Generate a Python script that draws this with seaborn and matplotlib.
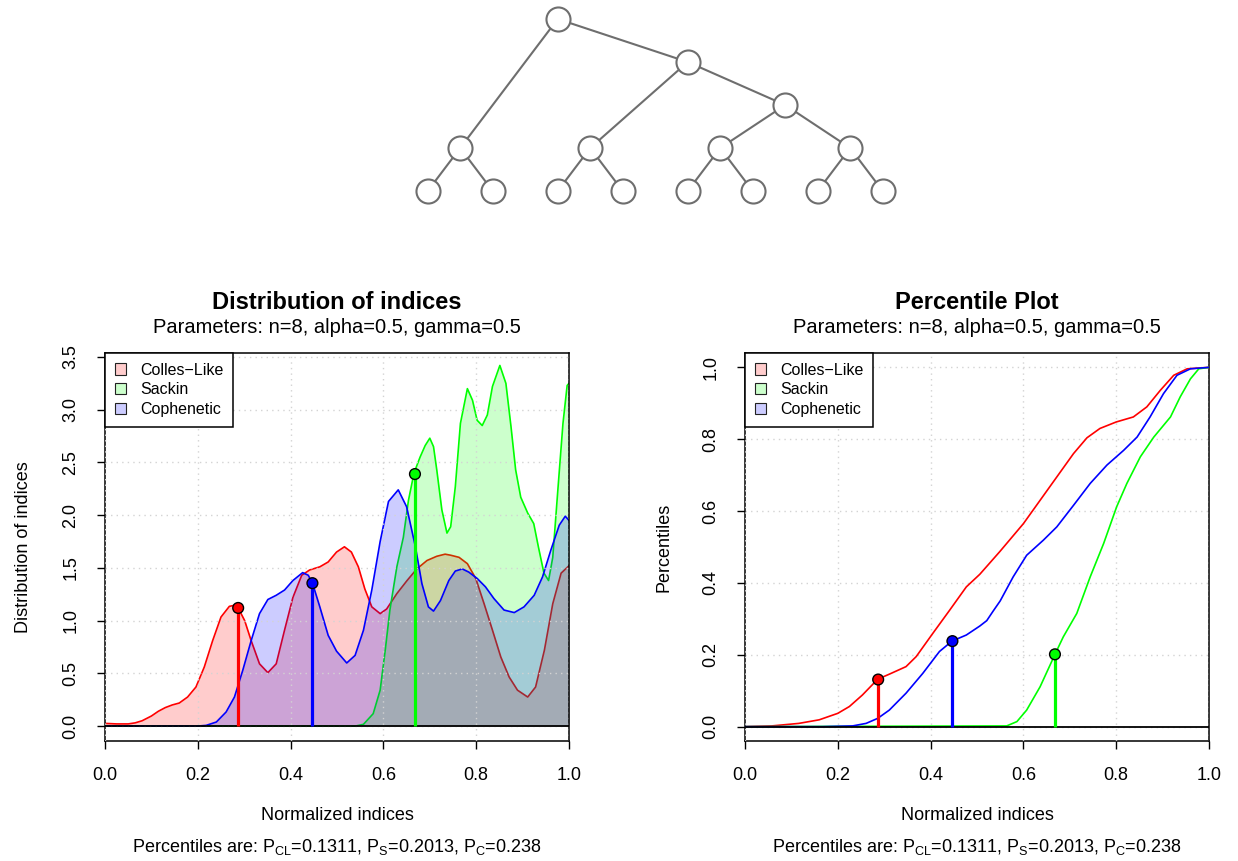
import numpy as np
import pandas as pd
import matplotlib
matplotlib.use("Agg")
import matplotlib.pyplot as plt
from matplotlib.patches import Patch
import seaborn as sns

# ------------------------------------------------------------------ data
series_names = ["Colles−Like", "Sackin", "Cophenetic"]
series_colors = ["#FF0000", "#00FF00", "#0000FF"]

# density curves
cl_dens_x = [0.0, 0.025, 0.05, 0.065, 0.08, 0.10, 0.115, 0.13, 0.145, 0.16, 0.178, 0.196, 0.214,
             0.232, 0.25, 0.268, 0.279, 0.287, 0.301, 0.315, 0.333, 0.351, 0.369, 0.387, 0.405,
             0.424, 0.441, 0.463, 0.481, 0.499, 0.516, 0.531, 0.546, 0.560, 0.575, 0.593, 0.607,
             0.629, 0.651, 0.672, 0.694, 0.715, 0.733, 0.745, 0.763, 0.781, 0.799, 0.817, 0.835,
             0.853, 0.871, 0.889, 0.911, 0.928, 0.947, 0.965, 0.983, 1.0]
cl_dens_y = [0.025, 0.02, 0.02, 0.03, 0.05, 0.095, 0.14, 0.175, 0.20, 0.218, 0.275, 0.37, 0.56,
             0.81, 1.034, 1.135, 1.145, 1.12, 1.0, 0.81, 0.59, 0.506, 0.59, 0.91, 1.22,
             1.43, 1.48, 1.51, 1.556, 1.65, 1.70, 1.65, 1.51, 1.30, 1.13, 1.066, 1.11,
             1.256, 1.38, 1.49, 1.57, 1.61, 1.63, 1.62, 1.60, 1.54, 1.40, 1.16, 0.91,
             0.655, 0.465, 0.34, 0.275, 0.37, 0.72, 1.16, 1.45, 1.52]

s_dens_x = [0.0, 0.54, 0.557, 0.578, 0.593, 0.604, 0.614, 0.629, 0.643, 0.654, 0.666, 0.679,
            0.69, 0.70, 0.708, 0.715, 0.726, 0.737, 0.745, 0.755, 0.766, 0.781, 0.792, 0.802,
            0.813, 0.824, 0.835, 0.851, 0.864, 0.875, 0.885, 0.896, 0.911, 0.924, 0.934, 0.946,
            0.956, 0.965, 0.976, 0.987, 0.996, 1.0]
s_dens_y = [0.0, 0.0, 0.016, 0.117, 0.34, 0.72, 1.10, 1.51, 1.79, 2.14, 2.40, 2.55,
            2.66, 2.73, 2.65, 2.43, 2.05, 1.83, 1.89, 2.27, 2.87, 3.20, 3.09, 2.90,
            2.85, 2.95, 3.22, 3.42, 3.25, 2.84, 2.43, 2.17, 2.02, 1.92, 1.70, 1.45,
            1.38, 1.60, 2.24, 2.87, 3.23, 3.25]

c_dens_x = [0.0, 0.20, 0.218, 0.24, 0.261, 0.279, 0.297, 0.315, 0.333, 0.351, 0.369, 0.387,
            0.405, 0.426, 0.438, 0.447, 0.463, 0.481, 0.499, 0.521, 0.539, 0.557, 0.575, 0.593,
            0.611, 0.632, 0.65, 0.669, 0.683, 0.697, 0.708, 0.723, 0.741, 0.755, 0.77, 0.784,
            0.802, 0.82, 0.838, 0.86, 0.882, 0.903, 0.925, 0.943, 0.961, 0.979, 0.992, 1.0]
c_dens_y = [0.0, 0.0, 0.006, 0.038, 0.133, 0.275, 0.53, 0.81, 1.066, 1.20, 1.24, 1.29,
            1.38, 1.455, 1.43, 1.357, 1.13, 0.86, 0.71, 0.598, 0.67, 0.908, 1.29, 1.75,
            2.13, 2.24, 2.08, 1.70, 1.35, 1.13, 1.09, 1.19, 1.38, 1.47, 1.49, 1.46,
            1.40, 1.32, 1.21, 1.10, 1.076, 1.13, 1.24, 1.415, 1.67, 1.905, 1.99, 1.95]

# percentile (cumulative) curves
cl_cdf_x = [0.0, 0.058, 0.116, 0.16, 0.2, 0.225, 0.253, 0.286, 0.311, 0.347, 0.369, 0.405, 0.441,
            0.477, 0.506, 0.549, 0.6, 0.636, 0.672, 0.708, 0.737, 0.765, 0.8, 0.837, 0.866,
            0.895, 0.924, 0.953, 1.0]
cl_cdf_y = [0.0, 0.002, 0.009, 0.019, 0.037, 0.056, 0.088, 0.132, 0.146, 0.167, 0.195, 0.26, 0.324,
            0.389, 0.424, 0.487, 0.565, 0.63, 0.695, 0.76, 0.804, 0.83, 0.848, 0.862, 0.89,
            0.936, 0.978, 0.996, 1.0]

s_cdf_x = [0.0, 0.564, 0.586, 0.607, 0.636, 0.668, 0.686, 0.715, 0.744, 0.773, 0.801, 0.823,
           0.852, 0.881, 0.917, 0.938, 0.96, 0.978, 1.0]
s_cdf_y = [0.0, 0.002, 0.014, 0.046, 0.111, 0.201, 0.25, 0.315, 0.417, 0.51, 0.612, 0.677,
           0.751, 0.806, 0.862, 0.918, 0.968, 0.996, 1.0]

c_cdf_x = [0.0, 0.167, 0.232, 0.261, 0.286, 0.311, 0.347, 0.383, 0.419, 0.446, 0.477, 0.506,
           0.521, 0.535, 0.55, 0.578, 0.607, 0.643, 0.672, 0.708, 0.744, 0.78, 0.816, 0.845,
           0.873, 0.902, 0.931, 0.96, 1.0]
c_cdf_y = [0.0, 0.0, 0.002, 0.009, 0.023, 0.046, 0.093, 0.148, 0.209, 0.238, 0.255, 0.28,
           0.295, 0.322, 0.35, 0.417, 0.477, 0.519, 0.556, 0.616, 0.677, 0.728, 0.769, 0.806,
           0.862, 0.927, 0.978, 0.996, 1.0]

# observed tree: normalized indices, density at them, percentiles
obs_index = [0.287, 0.668, 0.447]      # CL, S, C
obs_density = [1.12, 2.39, 1.355]
obs_percentile = [0.1311, 0.2013, 0.238]

x_ticks = [0.0, 0.2, 0.4, 0.6, 0.8, 1.0]
x_tick_labels = ["0.0", "0.2", "0.4", "0.6", "0.8", "1.0"]
dens_ticks = [0.0, 0.5, 1.0, 1.5, 2.0, 2.5, 3.0, 3.5]
dens_tick_labels = ["0.0", "0.5", "1.0", "1.5", "2.0", "2.5", "3.0", "3.5"]
pct_ticks = [0.0, 0.2, 0.4, 0.6, 0.8, 1.0]
pct_tick_labels = ["0.0", "0.2", "0.4", "0.6", "0.8", "1.0"]

# tree (n=8): node layout in leaf units / height levels, and edges
tree_node_x = [2.0, 4.0, 5.5, 0.5, 2.5, 4.5, 6.5, 0, 1, 2, 3, 4, 5, 6, 7]
tree_node_h = [4, 3, 2, 1, 1, 1, 1, 0, 0, 0, 0, 0, 0, 0, 0]
tree_edges = [(0, 3), (0, 1), (1, 4), (1, 2), (2, 5), (2, 6),
              (3, 7), (3, 8), (4, 9), (4, 10), (5, 11), (5, 12), (6, 13), (6, 14)]

title_left = "Distribution of indices"
title_right = "Percentile Plot"
subtitle = "Parameters: n=8, alpha=0.5, gamma=0.5"
bottom_text = (r"Percentiles are: P$_{\mathrm{CL}}$=0.1311, P$_{\mathrm{S}}$=0.2013, "
               r"P$_{\mathrm{C}}$=0.238")

# ------------------------------------------------------------------ style
sns.set_style("ticks")
plt.rcParams["font.family"] = ["Liberation Sans", "DejaVu Sans"]
plt.rcParams["mathtext.fontset"] = "custom"
plt.rcParams["mathtext.rm"] = "Liberation Sans"
plt.rcParams["mathtext.it"] = "Liberation Sans:italic"
plt.rcParams["axes.edgecolor"] = "black"
plt.rcParams["text.color"] = "black"
plt.rcParams["axes.labelcolor"] = "black"
plt.rcParams["xtick.color"] = "black"
plt.rcParams["ytick.color"] = "black"

W, H = 1238, 861
fig = plt.figure(figsize=(W / 100, H / 100), dpi=100)
fig.patch.set_facecolor("white")


def px_axes(left, top, right, bottom):
    return fig.add_axes([left / W, 1 - bottom / H, (right - left) / W, (bottom - top) / H])


# ------------------------------------------------------------------ tree
leaf0_px, leaf_step, leaf_y_px, level_step = 427.7, 65.0, 191.0, 43.0
t_xlim = (-0.5, 7.5)
t_ylim = (-0.45, 4.44)
axt = px_axes(leaf0_px + t_xlim[0] * leaf_step, leaf_y_px - t_ylim[1] * level_step,
              leaf0_px + t_xlim[1] * leaf_step, leaf_y_px - t_ylim[0] * level_step)
axt.set_xlim(*t_xlim)
axt.set_ylim(*t_ylim)
axt.axis("off")
for a, b in tree_edges:
    axt.plot([tree_node_x[a], tree_node_x[b]], [tree_node_h[a], tree_node_h[b]],
             color="#6e6e6e", lw=1.5, zorder=1, solid_capstyle="butt")
sns.scatterplot(x=tree_node_x, y=tree_node_h, ax=axt, s=300, color="white",
                edgecolor="#6e6e6e", linewidth=1.5, zorder=3, legend=False, clip_on=False)

# ------------------------------------------------------------------ common axis styling
FS_TICK = 13
FS_LAB = 13
FS_LEG = 11.5


def style_axes(ax, yticks, ylabels, ylim):
    ax.set_xlim(0, 1)
    ax.set_ylim(*ylim)
    ax.set_xticks(x_ticks)
    ax.set_xticklabels(x_tick_labels, fontsize=FS_TICK)
    ax.set_yticks(yticks)
    ax.set_yticklabels(ylabels, fontsize=FS_TICK, rotation=90, va="center")
    ax.tick_params(axis="both", direction="out", length=5.5, width=1, color="black",
                   labelcolor="black")
    ax.tick_params(axis="x", pad=13)
    ax.tick_params(axis="y", pad=13)
    for sp in ax.spines.values():
        sp.set_visible(True)
        sp.set_linewidth(1.1)
        sp.set_color("black")
    ax.grid(True, color="#D3D3D3", linestyle=(0, (1, 3)), lw=1.0, zorder=2.5)
    ax.set_axisbelow(False)
    for gl in ax.get_xgridlines() + ax.get_ygridlines():
        gl.set_zorder(2.5)
    ax.axhline(0, color="black", lw=1.3, zorder=4)
    ax.set_xlabel("Normalized indices", fontsize=FS_LAB, va="center")
    ax.xaxis.set_label_coords(0.5, -0.192)
    ax.text(0.5, -0.274, bottom_text, transform=ax.transAxes, ha="center", va="center",
            fontsize=FS_LAB)
    handles = [Patch(facecolor=matplotlib.colors.to_rgba(c, 0.2), edgecolor="#222222", lw=0.8)
               for c in series_colors]
    leg = ax.legend(handles, series_names, loc="upper left", bbox_to_anchor=(0, 1),
                    borderaxespad=0, fancybox=False, framealpha=1, edgecolor="black",
                    fontsize=FS_LEG, handlelength=0.7, handleheight=0.7, handletextpad=0.9,
                    labelspacing=0.3, borderpad=0.6)
    leg.get_frame().set_linewidth(1.1)
    leg.set_zorder(10)


def titles(ax, title):
    ax.text(0.5, 1.13, title, transform=ax.transAxes, ha="center", va="center",
            fontsize=17, fontweight="bold")
    ax.text(0.5, 1.067, subtitle, transform=ax.transAxes, ha="center", va="center",
            fontsize=14.5)


# ------------------------------------------------------------------ density panel
ax1 = px_axes(105, 353, 569, 741)
dens_sets = [(cl_dens_x, cl_dens_y), (s_dens_x, s_dens_y), (c_dens_x, c_dens_y)]
for (xs, ys), col in zip(dens_sets, series_colors):
    ax1.fill_between(xs, ys, 0, facecolor=col, alpha=0.2, lw=0, zorder=2)
    sns.lineplot(x=xs, y=ys, ax=ax1, color=col, lw=1.2, sort=False, estimator=None,
                 legend=False, zorder=2)
ax1.vlines(obs_index, 0, obs_density, colors=series_colors, lw=2.3, zorder=5)
sns.scatterplot(x=obs_index, y=obs_density, hue=series_names, palette=series_colors,
                ax=ax1, s=60, edgecolor="black", linewidth=1.0, zorder=6, legend=False)
style_axes(ax1, dens_ticks, dens_tick_labels, (-0.142, 3.538))
ax1.set_ylabel("Distribution of indices", fontsize=FS_LAB, va="center")
ax1.yaxis.set_label_coords(-0.175, 0.5)
titles(ax1, title_left)

# ------------------------------------------------------------------ percentile panel
ax2 = px_axes(745, 353, 1209, 741)
cdf_sets = [(cl_cdf_x, cl_cdf_y), (s_cdf_x, s_cdf_y), (c_cdf_x, c_cdf_y)]
for (xs, ys), col in zip(cdf_sets, series_colors):
    sns.lineplot(x=xs, y=ys, ax=ax2, color=col, lw=1.2, sort=False, estimator=None,
                 legend=False, zorder=3)
ax2.vlines(obs_index, 0, obs_percentile, colors=series_colors, lw=2.3, zorder=5)
sns.scatterplot(x=obs_index, y=obs_percentile, hue=series_names, palette=series_colors,
                ax=ax2, s=60, edgecolor="black", linewidth=1.0, zorder=6, legend=False)
style_axes(ax2, pct_ticks, pct_tick_labels, (-0.04, 1.04))
ax2.set_ylabel("Percentiles", fontsize=FS_LAB, va="center")
ax2.yaxis.set_label_coords(-0.175, 0.5)
titles(ax2, title_right)

fig.savefig("out.png", dpi=100, facecolor="white")
